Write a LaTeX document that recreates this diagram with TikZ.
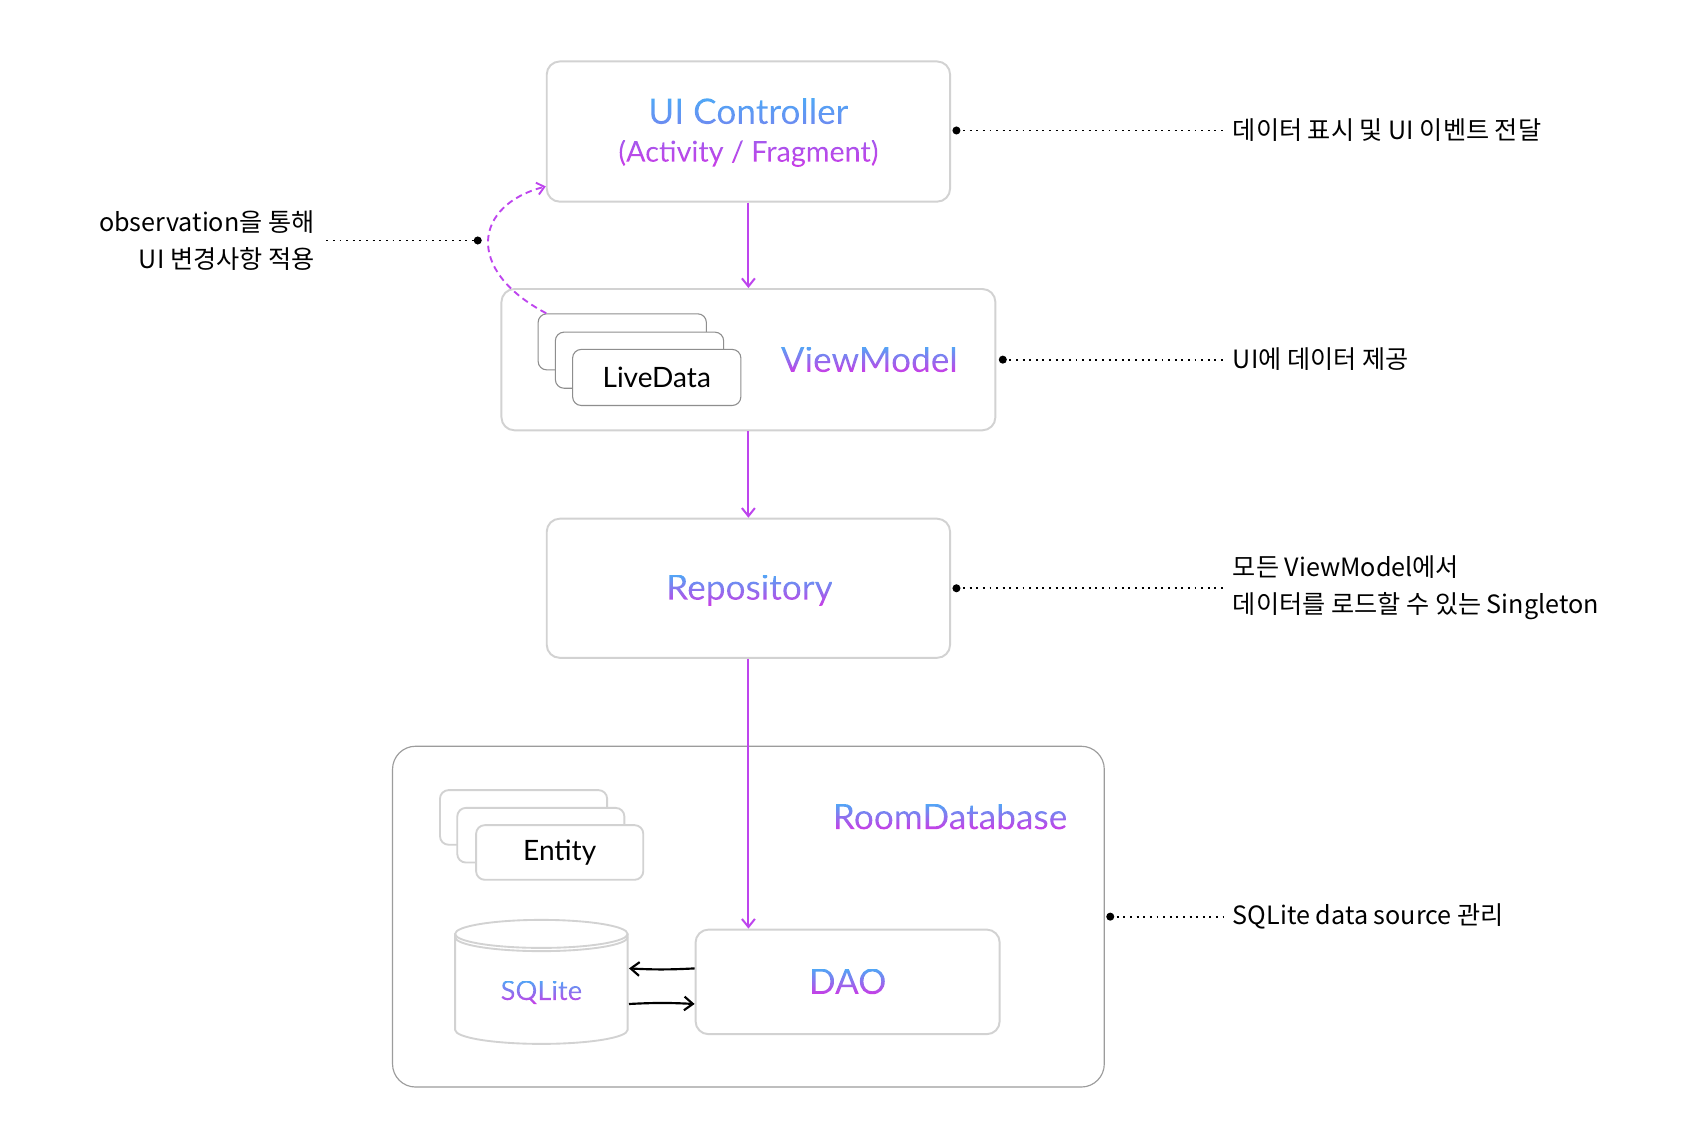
\documentclass[tikz,border=0pt]{standalone}
\usepackage{fontspec}
\setmainfont{Lato}
\newfontfamily\krfont{Noto Sans CJK KR}
\usetikzlibrary{arrows.meta,calc}

\definecolor{boxgray}{HTML}{D2D2D2}
\definecolor{roomgray}{HTML}{9C9C9C}
\definecolor{stackgray}{HTML}{8E8E8E}
\definecolor{flowpurple}{HTML}{BE45EE}
\definecolor{gblue}{HTML}{4FA8F6}
\definecolor{gmag}{HTML}{C93CE6}
\definecolor{uibot}{HTML}{6C8CF1}
\definecolor{acttop}{HTML}{A35BEE}

\newcommand\bigfont{\fontsize{24.5}{29}\selectfont}
\newcommand\subfont{\fontsize{20}{24}\selectfont}
\newcommand\smallfont{\fontsize{19.5}{23}\selectfont}
\newcommand\sqlfont{\fontsize{19}{23}\selectfont}
\newcommand\notefont{\krfont\fontsize{17.5}{26.25}\selectfont}

% gradient-filled text: text used as a clipping path, then a vertical shading
\makeatletter
\newsavebox\gtbox
\newlength\gth
% #1 shading name, #2 text (with font), #3 top colour, #4 bottom colour
\newcommand\gradfill[4]{%
  \sbox\gtbox{#2}%
  \setlength\gth{\dimexpr\ht\gtbox+\dp\gtbox\relax}%
  \edef\gt@w{\the\wd\gtbox}\edef\gt@h{\the\gth}%
  \pgfdeclareverticalshading{#1}{\gt@w}{color(0pt)=(#4); color(\gt@h)=(#3)}%
  \pgfsys@invoke{q 7 Tr}%
  \rlap{\usebox\gtbox}%
  \pgfsys@invoke{0 Tr}%
  \raisebox{-\dp\gtbox}{\pgfuseshading{#1}}%
  \pgfsys@invoke{Q}}
\makeatother

\begin{document}
\begin{tikzpicture}[x=0.75pt,y=-0.75pt,
  mainbox/.style={draw=boxgray,line width=1.35pt,rounded corners=9pt,fill=white,inner sep=0pt},
  roombox/.style={draw=roomgray,line width=0.8pt,rounded corners=16pt,fill=white,inner sep=0pt},
  ldbox/.style={draw=stackgray,line width=0.75pt,rounded corners=6pt,fill=white,inner sep=0pt,
                minimum width=117pt,minimum height=39pt},
  enbox/.style={draw=boxgray,line width=1.3pt,rounded corners=6pt,fill=white,inner sep=0pt,
                minimum width=116.25pt,minimum height=38pt},
  gt/.style={inner sep=0pt},
  cyl/.style={draw=boxgray,line width=1.3pt},
  flow/.style={draw=flowpurple,line width=1.4pt,-{Straight Barb[length=5.6pt,width=9pt]}},
  obsarrow/.style={draw=flowpurple,line width=1.3pt,dash pattern=on 4.5pt off 3pt,
                -{Straight Barb[length=5pt,width=8.5pt]}},
  dbarrow/.style={draw=black,line width=1.5pt,-{Straight Barb[length=6pt,width=9.5pt]}},
  note/.style={font=\notefont,inner sep=0pt,text=black},
  dots/.style={draw=black,line width=1.3pt,dash pattern=on 1.3pt off 3.3pt},
  dotmark/.style={fill=black}]

\fill[white] (0,0) rectangle (1569,1053.5);
\useasboundingbox (0,0) rectangle (1569,1053.5);

% main boxes
\node[mainbox,minimum width=280.5pt,minimum height=97.5pt] (uibox) at (694,122) {};
\node[mainbox,minimum width=343.5pt,minimum height=98.25pt] (vmbox) at (694,333.5) {};
\node[mainbox,minimum width=280.5pt,minimum height=96.75pt] (repobox) at (694,545.5) {};
\node[roombox,minimum width=495pt,minimum height=237pt] (roombox) at (694,850) {};

% LiveData stack
\node[ldbox] (ld1) at (577,317) {};
\node[ldbox] (ld2) at (593,334) {};
\node[ldbox,font=\smallfont] (ld3) at (609,350) {LiveData};

% Entity stack
\node[enbox] (en1) at (485.5,758) {};
\node[enbox] (en2) at (501.5,774.5) {};
\node[enbox,font=\smallfont] (en3) at (519,790.5) {Entity};

% SQLite cylinder
\node[inner sep=0pt,minimum width=120pt,minimum height=86.25pt] (sqlite) at (502,910.5) {};
\fill[white] (422,866) -- (422,955) arc[start angle=180,end angle=360,x radius=60pt,y radius=9.75pt]
  -- (582,866) -- cycle;
\draw[cyl] (422,866) -- (422,955) arc[start angle=180,end angle=360,x radius=60pt,y radius=9.75pt]
  -- (582,866);
\draw[cyl,fill=white] (502,866) ellipse[x radius=60pt,y radius=9.75pt];
\draw[cyl] (422,869) arc[start angle=180,end angle=360,x radius=60pt,y radius=9.75pt];

% DAO
\node[mainbox,minimum width=211.5pt,minimum height=72.75pt] (daobox) at (786,910.5) {};

% gradient labels
\node[gt] (uic)  at (694,103) {\gradfill{shuic}{\bigfont UI Controller}{gblue}{uibot}};
\node[gt] (act)  at (694,142) {\gradfill{shact}{\subfont (Activity / Fragment)}{acttop}{gmag}};
\node[gt] (vm)   at (806,333) {\gradfill{shvm}{\bigfont ViewModel}{gblue}{gmag}};
\node[gt] (repo) at (695,547) {\gradfill{shrepo}{\bigfont Repository}{gblue}{gmag}};
\node[gt] (room) at (881,757) {\gradfill{shroom}{\bigfont RoomDatabase}{gblue}{gmag}};
\node[gt] (dao)  at (786,910) {\gradfill{shdao}{\bigfont DAO}{gblue}{gmag}};
\node[gt] (sql)  at (502,920) {\gradfill{shsql}{\sqlfont SQLite}{gblue}{gmag}};

% flow arrows
\draw[flow] (uibox.south) -- (vmbox.north);
\draw[flow] (vmbox.south) -- (repobox.north);
\draw[flow] (repobox.south) -- (repobox.south |- daobox.north);

% DAO <-> SQLite
\draw[dbarrow] ($(daobox.west)+(0,-12.5)$) to[bend left=3] ($(sqlite.east)+(1,-12.5)$);
\draw[dbarrow] ($(sqlite.east)+(1,20.5)$) to[bend left=3] ($(daobox.west)+(0,20.5)$);

% observation arrow
\draw[obsarrow] ($(ld1.north west)+(8,0)$) .. controls (430,250) and (440,190) .. ($(uibox.south west)+(0,-15)$);

% annotations
\node[note,anchor=west] (n1) at (1143,121) {데이터 표시 및 UI 이벤트 전달};
\node[note,anchor=west] (n2) at (1143,333) {UI에 데이터 제공};
\node[note,anchor=west,align=left] (n3) at (1143,545) {모든 ViewModel에서\\데이터를 로드할 수 있는 Singleton};
\node[note,anchor=west] (n4) at (1143,850) {SQLite data source 관리};
\node[note,anchor=east,align=right] (n5) at (292,223) {observation을 통해\\UI 변경사항 적용};

\coordinate (d1) at ($(uibox.east)+(5,-1)$);
\coordinate (d2) at ($(vmbox.east)+(6,0)$);
\coordinate (d3) at ($(repobox.east)+(5,0)$);
\coordinate (d4) at ($(roombox.east)+(5,0)$);
\coordinate (d5) at (443,223);

\draw[dots,shorten >=6pt] (d1) -- (d1 -| n1.west);
\draw[dots,shorten >=6pt] (d2) -- (d2 -| n2.west);
\draw[dots,shorten >=6pt] (d3) -- (d3 -| n3.west);
\draw[dots,shorten >=6pt] (d4) -- (d4 -| n4.west);
\draw[dots,shorten <=8pt] (n5.east) -- (d5);

\foreach \d in {d1,d2,d3,d4,d5} \fill[dotmark] (\d) circle (2.8pt);
\end{tikzpicture}
\end{document}
